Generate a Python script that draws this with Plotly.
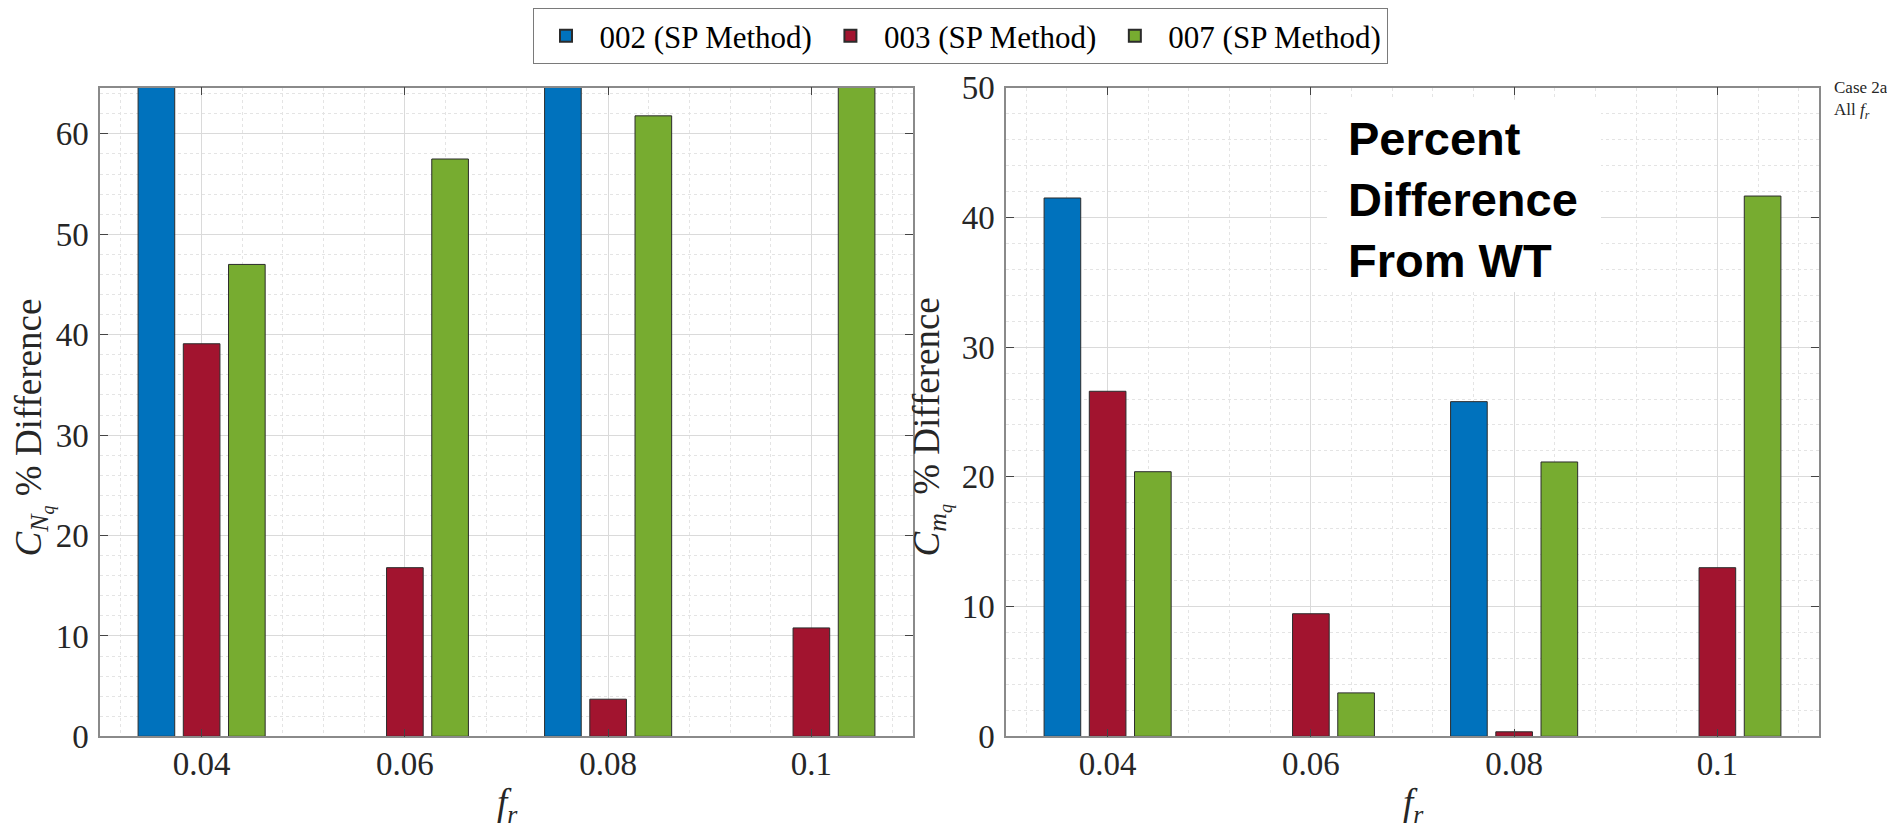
import plotly.graph_objects as go

# ---------------- data ----------------
fr = [0.04, 0.06, 0.08, 0.1]
series_names = ["002 (SP Method)", "003 (SP Method)", "007 (SP Method)"]
# C_Nq % difference (bars above ~65 are clipped in the reference)
cnq_002 = [82.0, None, 88.0, None]
cnq_003 = [39.1, 16.8, 3.7, 10.8]
cnq_007 = [47.0, 57.5, 61.8, 76.0]
# C_mq % difference
cmq_002 = [41.5, None, 25.8, None]
cmq_003 = [26.6, 9.45, 0.35, 13.0]
cmq_007 = [20.4, 3.35, 21.15, 41.65]

x_ticks = [0.04, 0.06, 0.08, 0.1]
x_tick_labels = ["0.04", "0.06", "0.08", "0.1"]
cnq_ticks = [0, 10, 20, 30, 40, 50, 60]
cmq_ticks = [0, 10, 20, 30, 40, 50]

colors = ["#0072BD", "#A2142F", "#77AC30"]

# page body has an 8px margin: size the figure to fit the window
OFF = 8
W, H = 1895 - OFF, 830 - OFF
SERIF = "Liberation Serif"


def px_x(p):
    return (p - OFF) / W


def px_y(p):
    return 1 - (p - OFF) / H


fig = go.Figure()

left_vals = [cnq_002, cnq_003, cnq_007]
right_vals = [cmq_002, cmq_003, cmq_007]
for i, name in enumerate(series_names):
    fig.add_trace(go.Bar(
        x=fr, y=left_vals[i], name=name, legendgroup=name,
        marker=dict(color=colors[i], line=dict(color="#2b2b2b", width=1)),
        xaxis="x", yaxis="y", showlegend=True,
    ))
for i, name in enumerate(series_names):
    fig.add_trace(go.Bar(
        x=fr, y=right_vals[i], name=name, legendgroup=name,
        marker=dict(color=colors[i], line=dict(color="#2b2b2b", width=1)),
        xaxis="x2", yaxis="y2", showlegend=False,
    ))

frame_color = "#8a8a8a"
grid_major = "#dadada"
grid_minor = "#e4e4e4"
tick_font = dict(family=SERIF, size=33, color="#262626")


def xaxis_cfg(domain, anchor):
    return dict(
        domain=domain, anchor=anchor, range=[0.03, 0.11],
        tickmode="array", tickvals=x_ticks, ticktext=x_tick_labels,
        ticks="inside", ticklen=8, tickcolor="#444", tickwidth=1,
        showline=True, linecolor=frame_color, linewidth=1.5, mirror="ticks",
        showgrid=True, gridcolor=grid_major, gridwidth=1,
        minor=dict(dtick=0.004, tick0=0.0, showgrid=True, gridcolor=grid_minor,
                   griddash="dot", gridwidth=1, ticks=""),
        tickfont=tick_font, ticklabelstandoff=-3, zeroline=False, automargin=False,
    )


def yaxis_cfg(domain, anchor, rng, tickvals):
    return dict(
        domain=domain, anchor=anchor, range=rng,
        tickmode="array", tickvals=tickvals,
        ticks="inside", ticklen=8, tickcolor="#444", tickwidth=1,
        showline=True, linecolor=frame_color, linewidth=1.5, mirror="ticks",
        showgrid=True, gridcolor=grid_major, gridwidth=1,
        minor=dict(dtick=2, tick0=0, showgrid=True, gridcolor=grid_minor,
                   griddash="dot", gridwidth=1, ticks=""),
        tickfont=tick_font, ticklabelstandoff=3, zeroline=False, automargin=False,
    )


ydom = [px_y(736), px_y(85)]
fig.update_layout(
    width=W, height=H,
    margin=dict(l=0, r=0, t=0, b=0),
    paper_bgcolor="white", plot_bgcolor="white",
    barmode="group", bargap=0.3325, bargroupgap=0.19,
    xaxis=xaxis_cfg([px_x(100), px_x(913)], "y"),
    yaxis=yaxis_cfg(ydom, "x", [0, 64.6], cnq_ticks),
    xaxis2=xaxis_cfg([px_x(1006), px_x(1819)], "y2"),
    yaxis2=yaxis_cfg(ydom, "x2", [0, 50], cmq_ticks),
    legend=dict(
        orientation="h", x=px_x(960), xanchor="center", y=px_y(5), yanchor="top",
        bordercolor="#7a7a7a", borderwidth=1, bgcolor="white",
        font=dict(family=SERIF, size=31, color="#000"),
        itemwidth=57, itemsizing="constant",
    ),
)

# white box behind the bold label (covers the grid)
fig.add_shape(type="rect", xref="paper", yref="paper",
              x0=px_x(1327), x1=px_x(1601), y0=px_y(290), y1=px_y(97),
              fillcolor="white", line=dict(width=0), layer="above")

ann = []
# axis titles
ylab = "<i>C</i><sub><i>N<sub>q</sub></i></sub> % Difference"
ylab2 = "<i>C</i><sub><i>m<sub>q</sub></i></sub> % Difference"
for xc, txt in [(33, ylab), (931, ylab2)]:
    ann.append(dict(x=px_x(xc), y=px_y(426), xref="paper", yref="paper",
                    text=txt, textangle=-90, showarrow=False,
                    font=dict(family=SERIF, size=37, color="#262626"),
                    xanchor="center", yanchor="middle"))
for xc in [507, 1413]:
    ann.append(dict(x=px_x(xc), y=px_y(805), xref="paper", yref="paper",
                    text="<i>f</i><sub><i>r</i></sub>", showarrow=False,
                    font=dict(family=SERIF, size=37, color="#262626"),
                    xanchor="center", yanchor="middle"))
# bold label
ann.append(dict(x=px_x(1346), y=px_y(197), xref="paper", yref="paper",
                text="Percent<br>Difference<br>From WT", showarrow=False,
                align="left", xanchor="left", yanchor="middle",
                font=dict(family="Liberation Sans", size=47, color="black", weight="bold")))
# case label
ann.append(dict(x=px_x(1832), y=px_y(73), xref="paper", yref="paper",
                text="Case 2a<br>All <i>f</i><sub><i>r</i></sub>", showarrow=False,
                align="left", xanchor="left", yanchor="top",
                font=dict(family=SERIF, size=17, color="#262626")))
fig.update_layout(annotations=ann)

fig.write_html("out.html")
